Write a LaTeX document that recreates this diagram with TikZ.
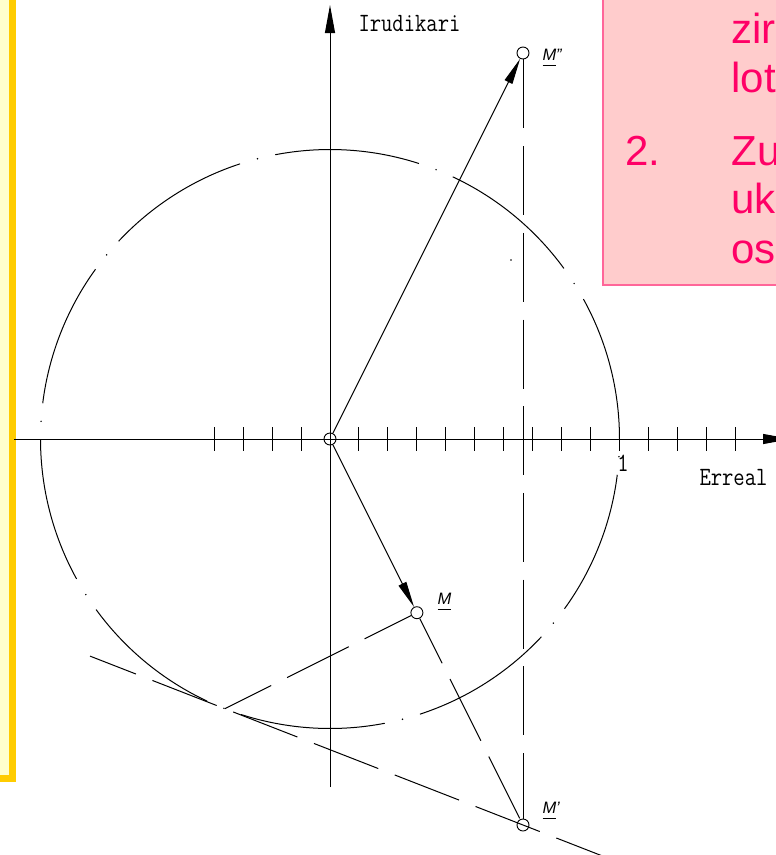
\documentclass[tikz,border=0pt]{standalone}
\usepackage{fontspec}
\setmainfont{Liberation Sans}
\usetikzlibrary{arrows.meta}
\definecolor{pinkfill}{RGB}{255,204,204}
\definecolor{pinkline}{RGB}{255,102,153}
\definecolor{pinktext}{RGB}{255,0,102}
\definecolor{yelfill}{RGB}{255,255,204}
\definecolor{yelline}{RGB}{255,204,0}
\newcommand\ulmark[1]{\setbox0\hbox{#1}\rlap{\rule[-6pt]{\wd0}{1pt}}\box0}
\begin{document}
\begin{tikzpicture}[x=1pt,y=-1pt,line width=1pt,
  pnt/.style={circle,draw,inner sep=0pt,minimum size=12pt,line width=0.9pt},
  cad/.style={font=\fontsize{22}{22}\selectfont\ttfamily,inner sep=0pt},
  lbl/.style={font=\fontsize{16.5}{16.5}\selectfont\itshape,inner sep=0pt,anchor=base west},
  ptxt/.style={font=\fontsize{42}{49}\selectfont,text=pinktext,inner sep=0pt,anchor=base west},
  dsh/.style={dash pattern=on 69pt off 17.7pt},
  vec/.style={-{Triangle[length=26pt,width=8.5pt]}},
  axis/.style={-{Triangle[length=28pt,width=10pt]}}]
\useasboundingbox (0,0) rectangle (776,855);
\clip (0,0) rectangle (776,855);
% boxes
\draw[fill=yelfill,draw=yelline,line width=7pt] (-20,-20) rectangle (12.5,778.5);
\draw[fill=pinkfill,draw=pinkline,line width=2pt] (603,-10) rectangle (800,285);
\node[ptxt] (t1) at (731,43) {zir};
\node[ptxt] (t2) at (731,92) {lot};
\node[ptxt] (t3) at (625,165) {2.};
\node[ptxt] (t4) at (731,165) {Zu};
\node[ptxt] (t5) at (731,213) {uk};
\node[ptxt] (t6) at (731,263) {os};
% points
\node[pnt] (O) at (330,439) {};
\node[pnt] (M) at (416.9,612.7) {};
\node[pnt] (Mp) at (523,825) {};
\node[pnt] (Mpp) at (523,53) {};
\coordinate (T) at (224.8,708.7);
\coordinate (L1) at (90,656.1);
\coordinate (L2) at (602,855.8);
\coordinate (xs) at (14,439);
\coordinate (xe) at (791,439);
\coordinate (ys) at (330,787);
\coordinate (ye) at (330,5);
% axes
\draw[axis] (xs) -- (xe);
\draw[axis] (ys) -- (ye);
\foreach \k in {-4,...,-1,1,2,...,14}
  \draw ({330+28.95*\k},427) -- ({330+28.95*\k},451);
% circle (centre line style)
\foreach \k in {0,...,9} {
  \draw (O.center) ++({108.1+36*\k}:289.5pt) arc[start angle={108.1+36*\k},delta angle=28.8,radius=289.5pt];
  \fill (O.center) ++({104.5+36*\k}:289.5pt) circle[radius=0.8pt];
}
\fill (511,260) circle[radius=0.8pt];
% construction lines
\draw[dsh] (Mpp) -- (Mp);
\draw[dsh,dash phase=19pt] (M) -- (Mp);
\draw[dsh,dash phase=17pt] (M) -- (T);
\draw[dsh,dash phase=19.7pt] (L1) -- (L2);
% vectors
\draw[vec] (O) -- (M);
\draw[vec] (O) -- (Mpp);
% labels
\node[cad,anchor=west] (ylab) at (358,24) {\scalebox{1}[1.2]{Irudikari}};
\node[cad,anchor=west] (xlab) at (699,478) {\scalebox{1}[1.2]{Erreal}};
\node[cad] (one) at (623,463) {\scalebox{1}[1.2]{1}};
\node[lbl] (lM) at (437,604) {\ulmark{M}};
\node[lbl] (lMp) at (542,813) {\ulmark{M}\symbol{39}};
\node[lbl] (lMpp) at (542,60) {\ulmark{M}\symbol{34}};
\end{tikzpicture}
\end{document}
